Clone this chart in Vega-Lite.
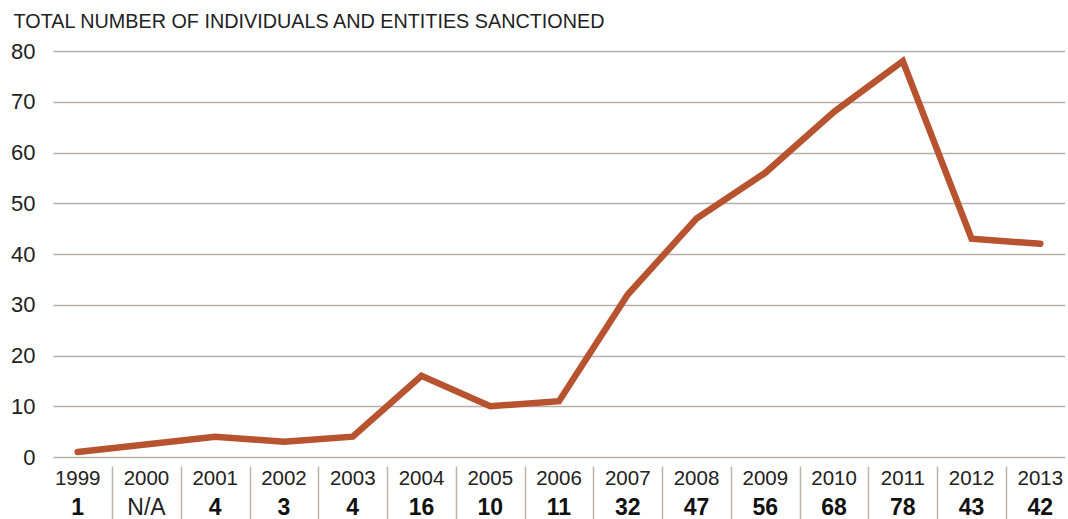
{
  "$schema": "https://vega.github.io/schema/vega-lite/v6.json",
  "padding": {"left": 10, "top": 12, "right": 0, "bottom": 0},
  "background": "white",
  "title": {
    "text": "TOTAL NUMBER OF INDIVIDUALS AND ENTITIES SANCTIONED",
    "anchor": "start",
    "frame": "bounds",
    "font": "Liberation Sans",
    "fontSize": 19.8,
    "fontWeight": "normal",
    "color": "#222222",
    "offset": 8,
    "dx": 3
  },
  "data": {
    "values": [
      {"year": "1999", "value": 1, "label": "1"},
      {"year": "2000", "value": null, "label": "N/A"},
      {"year": "2001", "value": 4, "label": "4"},
      {"year": "2002", "value": 3, "label": "3"},
      {"year": "2003", "value": 4, "label": "4"},
      {"year": "2004", "value": 16, "label": "16"},
      {"year": "2005", "value": 10, "label": "10"},
      {"year": "2006", "value": 11, "label": "11"},
      {"year": "2007", "value": 32, "label": "32"},
      {"year": "2008", "value": 47, "label": "47"},
      {"year": "2009", "value": 56, "label": "56"},
      {"year": "2010", "value": 68, "label": "68"},
      {"year": "2011", "value": 78, "label": "78"},
      {"year": "2012", "value": 43, "label": "43"},
      {"year": "2013", "value": 42, "label": "42"}
    ]
  },
  "bounds": "flush",
  "spacing": 9,
  "resolve": {"scale": {"x": "shared"}},
  "vconcat": [
    {
      "width": 1012,
      "height": 406,
      "mark": {"type": "line", "color": "#b7532f", "strokeWidth": 6.5, "strokeCap": "round", "strokeJoin": "miter", "invalid": "filter"},
      "encoding": {
        "x": {"field": "year", "type": "ordinal", "sort": "ascending", "scale": {"type": "point", "padding": 0.359}, "axis": null},
        "y": {
          "field": "value",
          "type": "quantitative",
          "scale": {"domain": [0, 80], "nice": false, "zero": true},
          "axis": {
            "values": [0, 10, 20, 30, 40, 50, 60, 70, 80],
            "title": null,
            "domain": false,
            "ticks": false,
            "grid": true,
            "gridColor": "#b9afa7",
            "gridWidth": 1.5,
            "labelFont": "Liberation Sans",
            "labelFontSize": 22,
            "labelColor": "#222222",
            "labelPadding": 18
          }
        }
      }
    },
    {
      "width": 1012,
      "height": 55,
      "encoding": {
        "x": {
          "field": "year",
          "type": "ordinal",
          "sort": "ascending",
          "scale": {"type": "point", "padding": 0.359},
          "axis": {
            "title": null,
            "labels": false,
            "ticks": false,
            "domain": false,
            "grid": true,
            "gridColor": "#bdb3ab",
            "gridWidth": 1.5,
            "tickOffset": 34.38,
            "gridOpacity": {"condition": {"test": "datum.value === '2013'", "value": 0}, "value": 1}
          }
        }
      },
      "layer": [
        {
          "mark": {"type": "text", "font": "Liberation Sans", "fontSize": 20.5, "color": "#222222", "baseline": "middle"},
          "encoding": {
            "text": {"field": "year"},
            "y": {"datum": "year", "type": "ordinal", "scale": {"type": "point", "domain": ["year", "value"], "padding": 0.433}, "axis": null}
          }
        },
        {
          "transform": [{"filter": "datum.label !== 'N/A'"}],
          "mark": {"type": "text", "font": "Liberation Sans", "fontSize": 23, "fontWeight": "bold", "color": "#111111", "baseline": "middle"},
          "encoding": {
            "text": {"field": "label"},
            "y": {"datum": "value", "type": "ordinal"}
          }
        },
        {
          "transform": [{"filter": "datum.label === 'N/A'"}],
          "mark": {"type": "text", "font": "Liberation Sans", "fontSize": 23, "fontWeight": "normal", "color": "#222222", "baseline": "middle"},
          "encoding": {
            "text": {"field": "label"},
            "y": {"datum": "value", "type": "ordinal"}
          }
        }
      ]
    }
  ],
  "config": {
    "view": {"stroke": null}
  }
}
